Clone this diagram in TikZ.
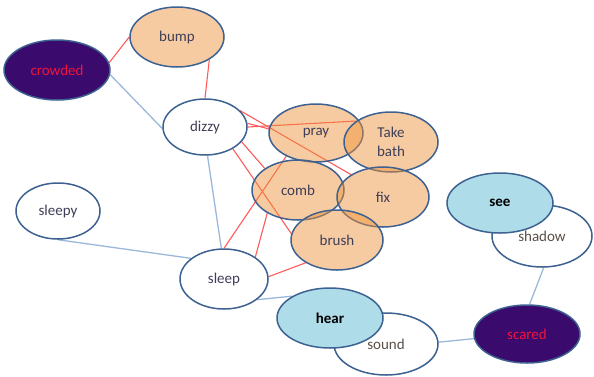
\documentclass[tikz,border=0pt]{standalone}
\usepackage{fontspec}
\setmainfont{Carlito}
\usetikzlibrary{shapes.geometric,backgrounds}
\definecolor{bord}{HTML}{3D6190}
\definecolor{peach}{RGB}{238,145,55}
\definecolor{aqua}{HTML}{AEDDE9}
\definecolor{plum}{HTML}{3A0A6C}
\definecolor{redln}{HTML}{FF5A5A}
\definecolor{blueln}{HTML}{9AB8DA}
\definecolor{txt}{HTML}{3E3E58}
\definecolor{txtb}{HTML}{5A5048}
\definecolor{redtxt}{HTML}{F0143C}
\begin{document}
\begin{tikzpicture}[x=1pt,y=-1pt,
  ell/.style={ellipse,draw=bord,line width=1.5pt,inner sep=0pt,align=center,
    font=\fontsize{15}{19}\selectfont,text=txt},
  sz/.style 2 args={minimum width=#1pt,minimum height=#2pt},
  plain/.style={ell,fill=white},
  peachy/.style={ell,fill=peach,fill opacity=0.47,text opacity=1},
  watery/.style={ell,fill=aqua,text=black,font=\fontsize{15}{19}\selectfont\bfseries},
  dark/.style={ell,fill=plum,text=redtxt},
  redge/.style={draw=redln,line width=1.1pt},
  bedge/.style={draw=blueln,line width=1.3pt}]
\useasboundingbox (0,0) rectangle (594,376);

\node[dark,sz={106}{60}] (crowded) at (57,70) {crowded};
\node[peachy,sz={94}{60}] (bump) at (177,37) {bump};
\node[plain,sz={84}{56}] (dizzy) at (205,127) {dizzy};
\node[peachy,sz={94}{58}] (pray) at (316,133) {pray};
\node[peachy,sz={94}{60}] (takebath) at (391,142) {Take\\bath};
\node[peachy,sz={92}{60}] (comb) at (298,190) {comb};
\node[peachy,sz={92}{60}] (fix) at (383,197) {fix};
\node[peachy,sz={92}{60}] (brush) at (337,240) {brush};
\node[plain,sz={84}{56}] (sleepy) at (58,211) {sleepy};
\node[plain,sz={88}{60}] (sleep) at (224,279) {sleep};
\node[plain,sz={100}{62},text=txtb] (shadow) at (542,236) {shadow};
\node[watery,sz={106}{60}] (see) at (500,203) {see};
\node[plain,sz={104}{62},text=txtb] (sound) at (386,344) {sound};
\node[watery,sz={106}{60}] (hear) at (330,318) {hear};
\node[dark,sz={106}{58}] (scared) at (527,334) {scared};

\begin{pgfonlayer}{background}
  \draw[redge] (crowded.8) -- (bump.west);
  \draw[redge] (bump.-35) -- (dizzy.north);
  \draw[redge] (dizzy.5) -- (pray.175);
  \draw[redge] (dizzy.0) -- (takebath.149);
  \draw[redge] (dizzy.25) -- (fix.145);
  \draw[redge] (dizzy.-22) -- (comb.147);
  \draw[redge] (dizzy.-38) -- (brush.172);
  \draw[redge] (sleep.north) -- (pray.218);
  \draw[redge] (sleep.35) -- (comb.217);
  \draw[redge] (sleep.3) -- (brush.216);
  \draw[bedge] (crowded.-5) -- (dizzy.182);
  \draw[bedge] (dizzy.-85) -- (sleep.95);
  \draw[bedge] (sleepy.south) -- (sleep.148);
  \draw[bedge] (sleep.-32) -- (hear.150);
  \draw[bedge] (sound.2) -- (scared.185);
  \draw[bedge] (shadow.-87) -- (scared.85);
\end{pgfonlayer}
\end{tikzpicture}
\end{document}
